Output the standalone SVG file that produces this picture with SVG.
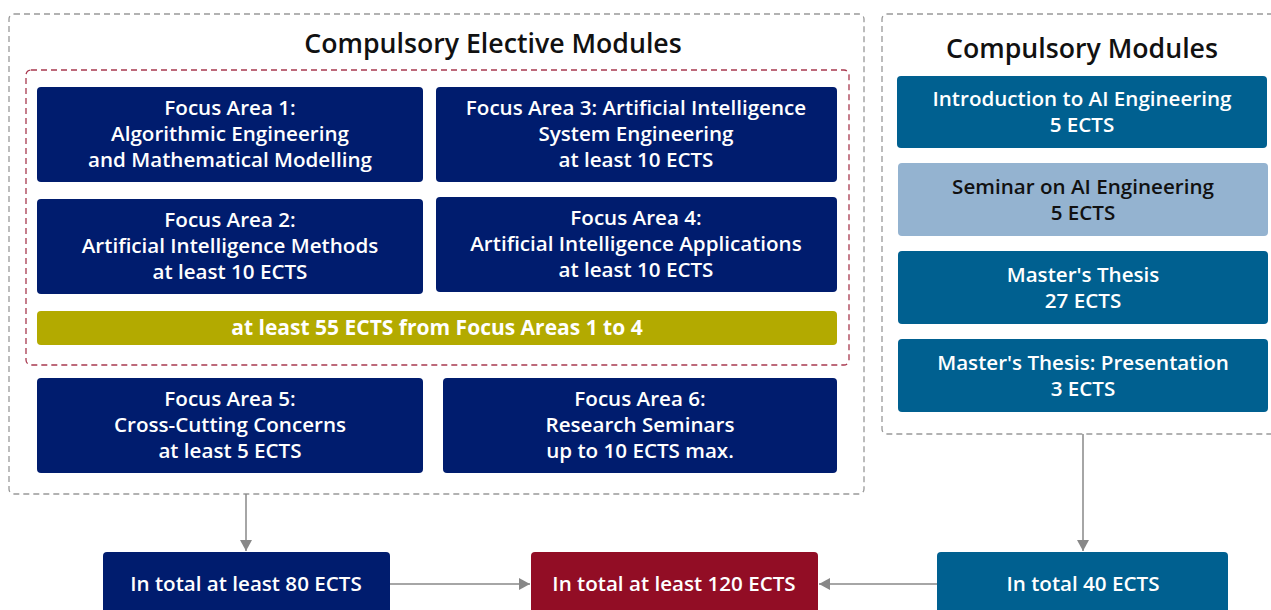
<svg xmlns="http://www.w3.org/2000/svg" width="1271" height="610" viewBox="0 0 1271 610">
<defs>
<style>
.cont{fill:#fff;stroke:#999;stroke-width:1.3;stroke-dasharray:6 4}
.red{fill:none;stroke:#a8394f;stroke-width:1.3;stroke-dasharray:6 4}
.navy{fill:#001c6e}
.teal{fill:#006090}
.light{fill:#94b3d0}
.crim{fill:#920d25}
.olive{fill:#b3aa00}
text{font-family:"Open Sans","Noto Sans","Liberation Sans",sans-serif;font-weight:600;text-anchor:middle}
.t{font-size:20.6px;fill:#fff}
.tb{font-size:21px;fill:#fff;font-weight:700}
.td{font-size:20.6px;fill:#111}
.h{font-size:26.7px;fill:#111}
.con{stroke:#888;stroke-width:1.5;fill:none}
</style>
<marker id="ah" viewBox="0 0 10 10" refX="10" refY="5" markerWidth="11" markerHeight="12" markerUnits="userSpaceOnUse" orient="auto" preserveAspectRatio="none">
<path d="M0,0 L10,5 L0,10 Z" fill="#888"/>
</marker>
</defs>
<g id="elective">
<rect class="cont" x="9" y="14" width="855" height="480" rx="5"/>
<text class="h" x="493" y="53">Compulsory Elective Modules</text>
</g>
<g id="compulsory">
<rect class="cont" x="882" y="14" width="400" height="420" rx="5"/>
<text class="h" x="1082" y="58">Compulsory Modules</text>
</g>
<g id="focus14">
<rect class="red" x="26" y="70" width="823" height="295" rx="5"/>
</g>
<g id="fa1">
<rect class="navy" x="37" y="87" width="386" height="95" rx="4"/>
<text class="t" x="230" y="115">Focus Area 1:</text>
<text class="t" x="230" y="141">Algorithmic Engineering</text>
<text class="t" x="230" y="167">and Mathematical Modelling</text>
</g>
<g id="fa3">
<rect class="navy" x="436" y="87" width="401" height="95" rx="4"/>
<text class="t" x="636" y="115">Focus Area 3: Artificial Intelligence</text>
<text class="t" x="636" y="141">System Engineering</text>
<text class="t" x="636" y="167">at least 10 ECTS</text>
</g>
<g id="fa2">
<rect class="navy" x="37" y="199" width="386" height="95" rx="4"/>
<text class="t" x="230" y="227">Focus Area 2:</text>
<text class="t" x="230" y="253">Artificial Intelligence Methods</text>
<text class="t" x="230" y="279">at least 10 ECTS</text>
</g>
<g id="fa4">
<rect class="navy" x="436" y="197" width="401" height="95" rx="4"/>
<text class="t" x="636" y="225">Focus Area 4:</text>
<text class="t" x="636" y="251">Artificial Intelligence Applications</text>
<text class="t" x="636" y="277">at least 10 ECTS</text>
</g>
<g id="min55">
<rect class="olive" x="37" y="311" width="800" height="34" rx="4"/>
<text class="tb" x="437" y="335">at least 55 ECTS from Focus Areas 1 to 4</text>
</g>
<g id="fa5">
<rect class="navy" x="37" y="378" width="386" height="95" rx="4"/>
<text class="t" x="230" y="406">Focus Area 5:</text>
<text class="t" x="230" y="432">Cross-Cutting Concerns</text>
<text class="t" x="230" y="458">at least 5 ECTS</text>
</g>
<g id="fa6">
<rect class="navy" x="443" y="378" width="394" height="95" rx="4"/>
<text class="t" x="640" y="406">Focus Area 6:</text>
<text class="t" x="640" y="432">Research Seminars</text>
<text class="t" x="640" y="458">up to 10 ECTS max.</text>
</g>
<g id="intro">
<rect class="teal" x="897" y="76" width="370" height="72" rx="4"/>
<text class="t" x="1082" y="106">Introduction to AI Engineering</text>
<text class="t" x="1082" y="132">5 ECTS</text>
</g>
<g id="seminar">
<rect class="light" x="898" y="163" width="370" height="73" rx="4"/>
<text class="td" x="1083" y="194">Seminar on AI Engineering</text>
<text class="td" x="1083" y="220">5 ECTS</text>
</g>
<g id="thesis">
<rect class="teal" x="898" y="251" width="370" height="73" rx="4"/>
<text class="t" x="1083" y="282">Master's Thesis</text>
<text class="t" x="1083" y="308">27 ECTS</text>
</g>
<g id="presentation">
<rect class="teal" x="898" y="339" width="370" height="73" rx="4"/>
<text class="t" x="1083" y="370">Master's Thesis: Presentation</text>
<text class="t" x="1083" y="396">3 ECTS</text>
</g>
<g id="total80">
<rect class="navy" x="103" y="552" width="287" height="70" rx="4"/>
<text class="t" x="246" y="591">In total at least 80 ECTS</text>
</g>
<g id="total120">
<rect class="crim" x="531" y="552" width="287" height="70" rx="4"/>
<text class="t" x="674" y="591">In total at least 120 ECTS</text>
</g>
<g id="total40">
<rect class="teal" x="937" y="552" width="291" height="70" rx="4"/>
<text class="t" x="1083" y="591">In total 40 ECTS</text>
</g>
<g id="connectors">
<line class="con" x1="246" y1="494" x2="246" y2="551" marker-end="url(#ah)"/>
<line class="con" x1="1083" y1="434" x2="1083" y2="551" marker-end="url(#ah)"/>
<line class="con" x1="390" y1="584" x2="530" y2="584" marker-end="url(#ah)"/>
<line class="con" x1="937" y1="584" x2="819" y2="584" marker-end="url(#ah)"/>
</g>
</svg>
